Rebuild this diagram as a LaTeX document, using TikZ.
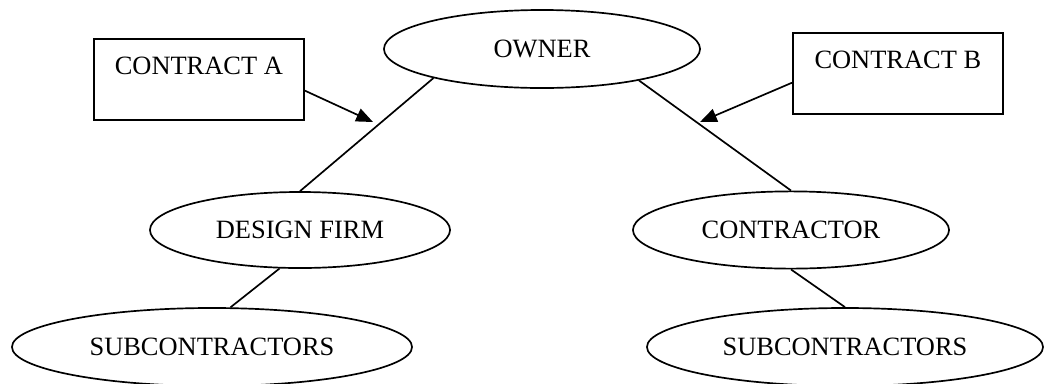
\documentclass[tikz,border=0pt]{standalone}
\usepackage{fontspec}
\setmainfont{Liberation Serif}
\usepackage{tikz}
\usetikzlibrary{arrows.meta, shapes.geometric}
\tikzset{every picture/.style={x=0.025cm,y=-0.025cm,line width=1.2pt,every node/.style={draw=black,line width=1.2pt,inner sep=0pt,font=\fontsize{18.8}{22}\selectfont}},
  party/.style={ellipse, minimum width=7.9cm, minimum height=1.95cm},
  contract/.style={rectangle, anchor=north west, minimum width=5.25cm, text height=0.9cm, text depth=1.13cm},
  pointer/.style={-{Triangle[length=0.42cm,width=0.34cm]}}}

\begin{document}
\begin{tikzpicture}
        \useasboundingbox (0,0) rectangle (1044,383);

        \node[party] (owner) at (542, 49) {OWNER};
        \node[party, minimum width=7.5cm, minimum height=1.9cm] (design) at (300, 230) {DESIGN FIRM};
        \node[party, minimum height=1.93cm] (contractor) at (791, 230) {CONTRACTOR};
        \node[party, minimum width=10cm] (subA) at (212, 347) {SUBCONTRACTORS};
        \node[party, minimum width=9.9cm] (subB) at (845, 347) {SUBCONTRACTORS};
        \node[contract] (conA) at (93, 38) {CONTRACT A};
        \node[contract] (conB) at (792, 32) {CONTRACT B};
        \coordinate (tipA) at (373, 122);
        \coordinate (tipB) at (700, 122);

        \foreach \from/\to in {
          owner.195/design.north, owner.342/contractor.north,
          design.242/subA.65, contractor.south/subB.north}
        \draw (\from) -- (\to);

        \draw[pointer] (conA.354) -- (tipA);
        \draw[pointer] (conB.185) -- (tipB);
      \end{tikzpicture}
\end{document}
